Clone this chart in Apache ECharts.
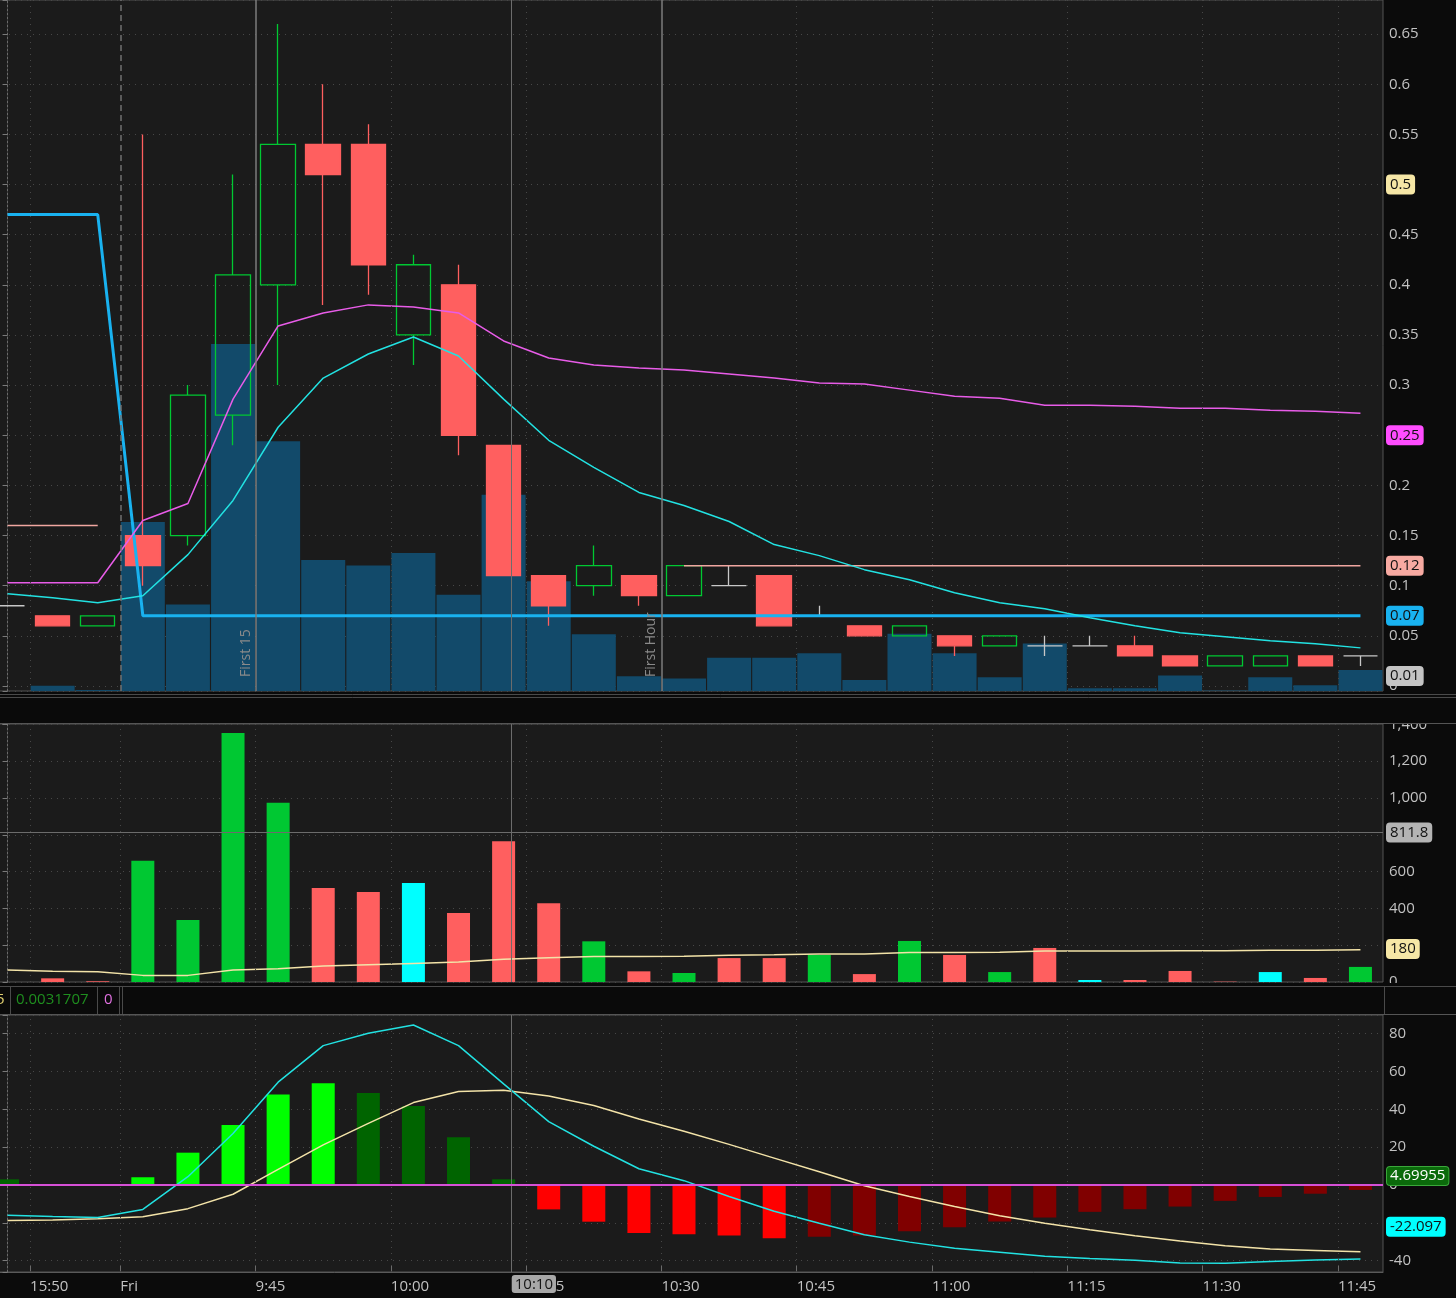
<!DOCTYPE html>
<html><head><meta charset="utf-8">
<script src="https://cdn.jsdelivr.net/npm/echarts@6/dist/echarts.min.js"></script>
<style>html,body{margin:0;padding:0;background:#0b0b0b;overflow:hidden;}#c{position:absolute;left:-15px;top:0;width:1471px;height:1298px;}</style>
</head><body><div id="c"></div>
<script>
// ---------- data ----------
const categories = ['15:45','15:50','15:55','9:30','9:35','9:40','9:45','9:50','9:55','10:00','10:05','10:10','10:15','10:20','10:25','10:30','10:35','10:40','10:45','10:50','10:55','11:00','11:05','11:10','11:15','11:20','11:25','11:30','11:35','11:40','11:45'];
const openP  = [0.08,0.07,0.06,0.15,0.15,0.27,0.40,0.54,0.54,0.35,0.40,0.24,0.11,0.10,0.11,0.09,0.10,0.11,0.07,0.06,0.05,0.05,0.04,0.04,0.04,0.04,0.03,0.02,0.02,0.03,0.03];
const closeP = [0.08,0.06,0.07,0.12,0.29,0.41,0.54,0.51,0.42,0.42,0.25,0.11,0.08,0.12,0.09,0.12,0.10,0.06,0.07,0.05,0.06,0.04,0.05,0.04,0.04,0.03,0.02,0.03,0.03,0.02,0.03];
const lowP   = [0.08,0.06,0.06,0.10,0.14,0.24,0.30,0.38,0.39,0.32,0.23,0.11,0.06,0.09,0.08,0.09,0.10,0.06,0.07,0.05,0.05,0.03,0.04,0.03,0.04,0.03,0.02,0.02,0.02,0.02,0.02];
const highP  = [0.08,0.07,0.07,0.55,0.30,0.51,0.66,0.60,0.56,0.43,0.42,0.24,0.11,0.14,0.11,0.12,0.12,0.11,0.08,0.06,0.06,0.05,0.05,0.05,0.05,0.05,0.03,0.03,0.03,0.03,0.03];
const volume = [0,20,4,659,337,1353,974,511,489,538,375,765,428,221,58,49,130,130,147,43,223,147,54,185,11,11,60,2,54,22,82];
const volumeKind = ['n','d','d','u','u','u','u','d','d','n','d','d','d','u','d','u','d','d','u','d','u','d','u','d','n','d','d','d','n','d','u'];
const volumeAvg = [65,58,56,36,36,65,72,87,94,101,109,123,132,138,138,140,145,148,152,152,160,160,162,168,168,168,170,170,172,172,175];
const vwap = [0.103,0.103,0.103,0.165,0.182,0.286,0.359,0.372,0.380,0.378,0.372,0.344,0.327,0.320,0.317,0.315,0.311,0.307,0.302,0.301,0.295,0.289,0.287,0.280,0.280,0.279,0.277,0.277,0.275,0.274,0.272];
const ema = [0.092,0.088,0.083,0.090,0.131,0.185,0.258,0.307,0.331,0.348,0.329,0.286,0.245,0.218,0.193,0.180,0.164,0.141,0.130,0.116,0.106,0.093,0.083,0.077,0.068,0.060,0.053,0.049,0.045,0.042,0.038];
const priorLevel = [0.47,0.47,0.47,0.07,0.07,0.07,0.07,0.07,0.07,0.07,0.07,0.07,0.07,0.07,0.07,0.07,0.07,0.07,0.07,0.07,0.07,0.07,0.07,0.07,0.07,0.07,0.07,0.07,0.07,0.07,0.07];
const pinkLevel = [0.16,0.16,0.16,null,null,null,null,null,null,null,null,null,null,null,null,0.12,0.12,0.12,0.12,0.12,0.12,0.12,0.12,0.12,0.12,0.12,0.12,0.12,0.12,0.12,0.12];
const macdHist = [3.0,0.3,0.3,4.1,17.1,31.7,47.8,53.8,48.7,41.8,25.2,3.0,-12.9,-19.4,-25.4,-26.1,-26.7,-28.2,-27.4,-26.7,-24.4,-22.3,-19.3,-17.2,-14.2,-12.8,-11.4,-8.4,-6.3,-4.6,-2.6];
const macdValue = [-16.0,-16.7,-17.2,-12.9,4.4,27.2,54.4,73.7,80.2,84.6,73.7,53.5,33.5,20.5,8.6,2.3,-6.1,-13.9,-20.2,-26.3,-30.2,-33.5,-35.6,-37.7,-38.9,-39.8,-41.2,-41.4,-40.5,-39.6,-39.1];
const macdAvg = [-18.8,-18.5,-17.9,-16.8,-12.5,-4.9,8.3,21.2,32.6,43.6,49.4,50.1,47.1,42.0,34.9,28.4,21.5,14.2,7.0,-0.4,-6.1,-11.4,-16.3,-20.2,-23.7,-26.8,-29.6,-32.1,-33.9,-34.6,-35.3];
// time tick labels sit on bar boundaries (index - 0.5)
const timeTickPos = [0.5,2.5,5.5,8.5,11.5,14.5,17.5,20.5,23.5,26.5,29.5];
const timeTickLabels = ['15:50','Fri','9:45','10:00','10:15','10:30','10:45','11:00','11:15','11:30','11:45'];
const crosshairX = 11.18, crosshairLabel = '10:10', crosshairVolume = 811.8;
const priceMarkers = [0.5, 0.25, 0.12, 0.07, 0.01];
const volumeMarker = 180;
const macdMarkers = [4.69955, -22.097];

// ---------- styles ----------
const FONT = '"Open Sans","Noto Sans",sans-serif';
const LABEL = '#c2c2c2';
const UP = '#00c832', DOWN = '#ff5f5f', NEUTRAL = '#00ffff', DOJI = '#c8c8c8';
const OX = 15; // chart canvas is shifted 15px left of the page
const GL = 0, GR = 73;
const kindColor = {u: UP, d: DOWN, n: NEUTRAL};
const invisible = {color: 'rgba(0,0,0,0)', width: 1};
const dotted = {color: '#474747', width: 1, type: [1, 5]};

function boxLabel(text, bg, fg, border) {
  return {show: true, position: 'end', formatter: text, backgroundColor: bg, color: fg,
    borderColor: border || bg, borderWidth: 1, borderRadius: 3, padding: [2, 3, 1, 3],
    fontSize: 15, fontFamily: FONT, distance: 4};
}
function hBox(v, text, bg, fg, border, line) {
  return {yAxis: v, lineStyle: line || invisible, label: boxLabel(text, bg, fg, border)};
}
function vLine(x, style, label) {
  return {xAxis: x, lineStyle: style, label: label || {show: false}};
}
const sideLabel = txt => ({show: true, position: 'insideStartTop', formatter: txt, color: '#8a8a8a',
  fontSize: 14, fontFamily: FONT, distance: [14, 3]});
const crossStyle = {color: '#6c6c6c', width: 1, type: 'solid'};
const sessionStyle = {color: '#7c7c7c', width: 1.5, type: 'solid'};

const topVert = timeTickPos.filter(p => p !== 5.5 && p !== 14.5).map(p =>
  p === 2.5 ? vLine(p, {color: '#707070', width: 1.5, type: [6, 4]}) : vLine(p, dotted));
topVert.push(vLine(crosshairX, crossStyle));
const sessionLines = [vLine(5.5, sessionStyle, sideLabel('First 15')), vLine(14.5, sessionStyle, sideLabel('First Hour'))];
const midVert = timeTickPos.map(p => vLine(p, dotted));
midVert.push(vLine(crosshairX, crossStyle));
const botVert = timeTickPos.map(p => vLine(p, dotted));
botVert.push(vLine(crosshairX, crossStyle, {show: true, position: 'start', formatter: crosshairLabel,
  align: 'left', backgroundColor: '#a8a8a8', color: '#151515', borderRadius: 3, padding: [2, 3, 1, 3],
  fontSize: 15, fontFamily: FONT, distance: 3}));

const candleData = categories.map((c, i) => {
  const item = {value: [openP[i], closeP[i], lowP[i], highP[i]]};
  if (openP[i] === closeP[i]) item.itemStyle = {color: DOJI, color0: DOJI, borderColor: DOJI, borderColor0: DOJI};
  return item;
});
const volumeData = volume.map((v, i) => ({value: v, itemStyle: {color: kindColor[volumeKind[i]]}}));
const histData = macdHist.map((v, i) => {
  const prev = i > 0 ? macdHist[i - 1] : v;
  let col;
  if (v >= 0) col = (i > 0 && v > prev) ? '#00ff00' : '#006400';
  else col = (v < prev) ? '#ff0000' : '#800000';
  return {value: v, itemStyle: {color: col}};
});

const grids = [
  {left: GL, right: GR, top: 0, height: 691},
  {left: GL, right: GR, top: 724, height: 258},
  {left: GL, right: GR, top: 1015, height: 257}
].map(g => Object.assign(g, {show: true, backgroundColor: '#1b1b1b', borderColor: '#555', borderWidth: 1, containLabel: false}));

const catAxis = gi => ({type: 'category', gridIndex: gi, data: categories, boundaryGap: true, position: 'top', show: false});
const valX = (gi, shown) => ({
  type: 'value', gridIndex: gi, min: -0.5, max: 30.5, position: 'bottom', show: shown,
  axisLine: {show: shown, lineStyle: {color: '#5a5a5a'}},
  axisTick: {show: shown, inside: true, length: 6, customValues: timeTickPos, lineStyle: {color: '#6a6a6a'}},
  axisLabel: {show: shown, customValues: timeTickPos, align: 'left', margin: 7, color: LABEL, fontSize: 15, fontFamily: FONT,
    formatter: v => { const k = timeTickPos.findIndex(p => Math.abs(p - v) < 1e-6); return k >= 0 ? timeTickLabels[k] : ''; }},
  splitLine: {show: false}
});
const yCommon = {
  position: 'right',
  axisLine: {show: true, lineStyle: {color: '#6a6a6a', type: [2, 2]}},
  axisTick: {show: true, inside: true, length: 5, lineStyle: {color: '#7a7a7a'}},
  splitLine: {show: true, lineStyle: dotted},
  axisLabel: {color: LABEL, fontSize: 15, fontFamily: FONT, margin: 6}
};

const option = {
  backgroundColor: '#0b0b0b',
  animation: false,
  grid: grids,
  xAxis: [catAxis(0), catAxis(1), catAxis(2), valX(0, false), valX(1, false), valX(2, true)],
  yAxis: [
    Object.assign({}, yCommon, {type: 'value', gridIndex: 0, min: -0.005, max: 0.684, splitNumber: 14,
      axisLabel: Object.assign({}, yCommon.axisLabel, {formatter: v => (v < -0.001 || v > 0.67) ? '' : String(+v.toFixed(2))})}),
    {type: 'value', gridIndex: 0, min: 0, max: 2695, show: false, position: 'left', splitLine: {show: false}},
    Object.assign({}, yCommon, {type: 'value', gridIndex: 1, min: 0, max: 1402, interval: 200,
      axisLabel: Object.assign({}, yCommon.axisLabel, {formatter: v => v > 1401 ? '' : v.toLocaleString('en-US')})}),
    Object.assign({}, yCommon, {type: 'value', gridIndex: 2, min: -46, max: 89.9, splitNumber: 7,
      axisLabel: Object.assign({}, yCommon.axisLabel, {formatter: v => (Math.abs(v % 20) > 1e-6) ? '' : String(v)})})
  ],
  series: [
    {type: 'bar', name: 'volOverlay', xAxisIndex: 0, yAxisIndex: 1, data: volume, barWidth: 44, z: 1,
      itemStyle: {color: '#124a6a'}, silent: true},
    {type: 'line', name: 'deco0', xAxisIndex: 3, yAxisIndex: 0, data: [], z: 2, silent: true,
      markLine: {symbol: ['none', 'none'], silent: true, animation: false,
        data: topVert.concat([
          hBox(priceMarkers[0], '0.5', '#f6e7a6', '#111'),
          hBox(priceMarkers[1], '0.25', '#ff4dff', '#111'),
          hBox(priceMarkers[2], '0.12', '#f7aaa2', '#111'),
          hBox(priceMarkers[3], '0.07', '#19b2f0', '#111'),
          hBox(priceMarkers[4], '0.01', '#c4c4c4', '#111')
        ])}},
    {type: 'candlestick', name: 'price', xAxisIndex: 0, yAxisIndex: 0, data: candleData, barWidth: 35, z: 3,
      itemStyle: {color: 'rgba(0,0,0,0)', color0: DOWN, borderColor: UP, borderColor0: DOWN, borderWidth: 1.3}},
    {type: 'line', name: 'prior', xAxisIndex: 0, yAxisIndex: 0, data: priorLevel, symbol: 'none', z: 4,
      lineStyle: {color: '#19b2f0', width: 3}},
    {type: 'line', name: 'pink', xAxisIndex: 0, yAxisIndex: 0, data: pinkLevel, symbol: 'none', z: 4, connectNulls: false,
      lineStyle: {color: '#f0a6a0', width: 1.5}},
    {type: 'line', name: 'vwap', xAxisIndex: 0, yAxisIndex: 0, data: vwap, symbol: 'none', z: 4,
      lineStyle: {color: '#e85ce8', width: 1.5}},
    {type: 'line', name: 'ema', xAxisIndex: 0, yAxisIndex: 0, data: ema, symbol: 'none', z: 4,
      lineStyle: {color: '#22e2e2', width: 1.5}},
    {type: 'line', name: 'sessions', xAxisIndex: 3, yAxisIndex: 0, data: [], z: 5, silent: true,
      markLine: {symbol: ['none', 'none'], silent: true, animation: false, data: sessionLines}},

    {type: 'line', name: 'deco1', xAxisIndex: 4, yAxisIndex: 2, data: [], z: 2, silent: true,
      markLine: {symbol: ['none', 'none'], silent: true, animation: false,
        data: midVert.concat([
          hBox(crosshairVolume, '811.8', '#b4b4b4', '#111', '#b4b4b4', crossStyle),
          hBox(volumeMarker, '180', '#f6e7a6', '#111')
        ])}},
    {type: 'bar', name: 'volume', xAxisIndex: 1, yAxisIndex: 2, data: volumeData, barWidth: 23, z: 3},
    {type: 'line', name: 'volAvg', xAxisIndex: 1, yAxisIndex: 2, data: volumeAvg, symbol: 'none', z: 4,
      lineStyle: {color: '#f3e3a8', width: 1.5}},

    {type: 'line', name: 'deco2', xAxisIndex: 5, yAxisIndex: 3, data: [], z: 2, silent: true,
      markLine: {symbol: ['none', 'none'], silent: true, animation: false,
        data: botVert.concat([
          hBox(macdMarkers[0], '4.69955', '#0b6a0b', '#ffffff', '#3aa83a'),
          hBox(macdMarkers[1], '-22.097', '#00ffff', '#111')
        ])}},
    {type: 'bar', name: 'hist', xAxisIndex: 2, yAxisIndex: 3, data: histData, barWidth: 23, z: 3,
      markLine: {symbol: ['none', 'none'], silent: true, animation: false, label: {show: false},
        data: [{yAxis: 0, lineStyle: {color: '#d650d6', width: 2, type: 'solid'}}]}},
    {type: 'line', name: 'macdAvg', xAxisIndex: 2, yAxisIndex: 3, data: macdAvg, symbol: 'none', z: 4,
      lineStyle: {color: '#f3e3a8', width: 1.5}},
    {type: 'line', name: 'macdValue', xAxisIndex: 2, yAxisIndex: 3, data: macdValue, symbol: 'none', z: 4,
      lineStyle: {color: '#22e2e2', width: 1.5}}
  ],
  graphic: [
    {type: 'rect', z: 100, shape: {x: 0, y: 692, width: 1471, height: 31}, style: {fill: '#0a0a0a'}},
    {type: 'line', z: 101, shape: {x1: 0, y1: 694.5, x2: 1471, y2: 694.5}, style: {stroke: '#4a4a4a', lineWidth: 1}},
    {type: 'line', z: 101, shape: {x1: 0, y1: 697.5, x2: 1471, y2: 697.5}, style: {stroke: '#4a4a4a', lineWidth: 1}},
    {type: 'line', z: 101, shape: {x1: 0, y1: 723.5, x2: 1471, y2: 723.5}, style: {stroke: '#555', lineWidth: 1}},
    {type: 'rect', z: 100, shape: {x: 0, y: 983, width: 1471, height: 31}, style: {fill: '#0a0a0a'}},
    {type: 'line', z: 101, shape: {x1: 0, y1: 986.5, x2: 1471, y2: 986.5}, style: {stroke: '#4a4a4a', lineWidth: 1}},
    {type: 'line', z: 101, shape: {x1: 0, y1: 1014.5, x2: 1471, y2: 1014.5}, style: {stroke: '#555', lineWidth: 1}},
    {type: 'line', z: 101, shape: {x1: OX + 10.5, y1: 987, x2: OX + 10.5, y2: 1014}, style: {stroke: '#4a4a4a', lineWidth: 1}},
    {type: 'line', z: 101, shape: {x1: OX + 97.5, y1: 987, x2: OX + 97.5, y2: 1014}, style: {stroke: '#4a4a4a', lineWidth: 1}},
    {type: 'line', z: 101, shape: {x1: OX + 119.5, y1: 987, x2: OX + 119.5, y2: 1014}, style: {stroke: '#4a4a4a', lineWidth: 1}},
    {type: 'line', z: 101, shape: {x1: OX + 122.5, y1: 987, x2: OX + 122.5, y2: 1014}, style: {stroke: '#4a4a4a', lineWidth: 1}},
    {type: 'line', z: 101, shape: {x1: OX + 1384.5, y1: 987, x2: OX + 1384.5, y2: 1014}, style: {stroke: '#4a4a4a', lineWidth: 1}},
    {type: 'text', z: 102, x: OX - 4, y: 1000, style: {text: '5', fill: '#e0cf70', font: '15px ' + FONT, textVerticalAlign: 'middle'}},
    {type: 'text', z: 102, x: OX + 16, y: 1000, style: {text: '0.0031707', fill: '#1f8e1f', font: '15px ' + FONT, textVerticalAlign: 'middle'}},
    {type: 'text', z: 102, x: OX + 104, y: 1000, style: {text: '0', fill: '#e070e0', font: '15px ' + FONT, textVerticalAlign: 'middle'}}
  ]
};
const chart = echarts.init(document.getElementById('c'));
chart.setOption(option);
</script>
</body></html>
